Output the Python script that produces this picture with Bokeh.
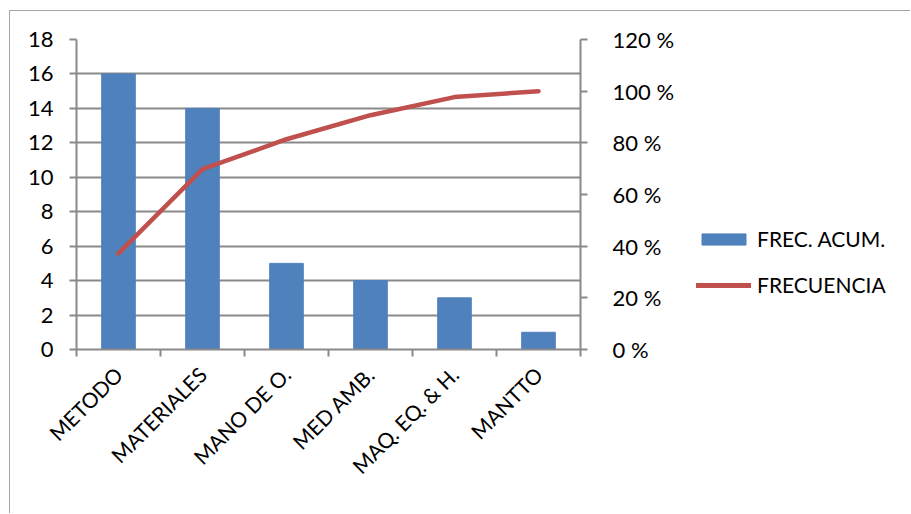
from bokeh.plotting import figure
from bokeh.models import (ColumnDataSource, Range1d, LinearAxis, FixedTicker,
                          PrintfTickFormatter, Legend, LegendItem)
from bokeh.layouts import row
from bokeh.embed import file_html
from bokeh.resources import INLINE
import math

categories = ["METODO", "MATERIALES", "MANO DE O.", "MED AMB.", "MAQ. EQ. & H.", "MANTTO"]
frec_acum = [16, 14, 5, 4, 3, 1]
frecuencia_pct = [37.2, 69.8, 81.4, 90.7, 97.7, 100.0]
left_ticks = [0, 2, 4, 6, 8, 10, 12, 14, 16, 18]
right_ticks = [0, 20, 40, 60, 80, 100, 120]

FONT = "Lato"
GRID = "#898989"
BORDER = "1px solid #a6a6a6"
BAR_COLOR = "#4F81BD"
LINE_COLOR = "#C0504D"

x_pos = [i + 0.5 for i in range(len(categories))]
src = ColumnDataSource(dict(x=x_pos, cat=categories, v=frec_acum, pct=frecuencia_pct))

p = figure(width=680, height=503, output_backend="svg", toolbar_location=None,
           x_range=Range1d(0, len(categories)), y_range=Range1d(0, 18),
           min_border_left=66, min_border_top=28, min_border_right=110, min_border_bottom=165)
p.styles = {"margin-left": "9px", "margin-top": "10px",
            "border-left": BORDER, "border-top": BORDER}
p.outline_line_color = None
p.background_fill_color = "white"
p.border_fill_color = "white"
p.extra_y_ranges = {"pct": Range1d(0, 120)}

bars = p.vbar(x="x", top="v", width=0.4, source=src, color=BAR_COLOR)
line = p.line(x="x", y="pct", source=src, y_range_name="pct", line_color=LINE_COLOR,
              line_width=4.5, line_cap="round", line_join="round")

# grid
p.xgrid.visible = False
p.ygrid.ticker = FixedTicker(ticks=left_ticks)
p.ygrid.grid_line_color = GRID
p.ygrid.grid_line_width = 2

# left axis
ya = p.yaxis[0]
ya.ticker = FixedTicker(ticks=left_ticks)
ya.axis_line_color = GRID
ya.axis_line_width = 2
ya.major_tick_line_color = GRID
ya.major_tick_line_width = 2
ya.major_tick_in = 0
ya.major_tick_out = 7
ya.minor_tick_line_color = None
ya.major_label_text_font = FONT
ya.major_label_text_font_size = "22px"
ya.major_label_text_color = "black"
ya.major_label_standoff = 16

# right axis
ra = LinearAxis(y_range_name="pct", ticker=FixedTicker(ticks=right_ticks),
                formatter=PrintfTickFormatter(format="%d %%"))
ra.axis_line_color = GRID
ra.axis_line_width = 2
ra.major_tick_line_color = GRID
ra.major_tick_line_width = 2
ra.major_tick_in = 0
ra.major_tick_out = 7
ra.minor_tick_line_color = None
ra.major_label_text_font = FONT
ra.major_label_text_font_size = "22px"
ra.major_label_text_color = "black"
ra.major_label_standoff = 25
p.add_layout(ra, "right")

# bottom axis
xa = p.xaxis[0]
xa.ticker = FixedTicker(ticks=x_pos, minor_ticks=list(range(len(categories) + 1)))
xa.major_label_overrides = {x: c for x, c in zip(x_pos, categories)}
xa.major_label_orientation = math.pi / 4
xa.axis_line_color = GRID
xa.axis_line_width = 2
xa.major_tick_line_color = None
xa.minor_tick_line_color = GRID
xa.minor_tick_line_width = 2
xa.minor_tick_in = 0
xa.minor_tick_out = 7
xa.major_label_text_font = FONT
xa.major_label_text_font_size = "21px"
xa.major_label_text_color = "black"
xa.major_label_standoff = 14

# legend figure (to the right of the chart)
q = figure(width=221, height=503, output_backend="svg", toolbar_location=None,
           x_range=Range1d(0, 1), y_range=Range1d(0, 1),
           min_border_left=0, min_border_right=0, min_border_top=0, min_border_bottom=0)
q.styles = {"margin-top": "10px", "border-top": BORDER}
q.axis.visible = False
q.grid.visible = False
q.outline_line_color = None
q.background_fill_color = "white"
q.border_fill_color = "white"
# proxy glyphs (placed outside the visible range) that only feed the legend
proxy = ColumnDataSource(dict(x=[5], top=[5], y=[5]))
lb = q.vbar(x="x", top="top", width=0.4, source=proxy, color=BAR_COLOR)
ll = q.line(x="x", y="y", source=proxy, line_color=LINE_COLOR,
            line_width=5, line_cap="round", line_join="round")

legend = Legend(items=[LegendItem(label="FREC. ACUM.", renderers=[lb]),
                       LegendItem(label="FRECUENCIA", renderers=[ll])],
                location=(7, 52), padding=0, margin=0,
                glyph_width=55, glyph_height=14, label_height=20, spacing=21,
                label_standoff=6, border_line_alpha=0, background_fill_alpha=0,
                label_text_font=FONT, label_text_font_size="21px", label_text_color="black")
q.add_layout(legend, "center")

layout = row(p, q, spacing=0)
open("out.html", "w").write(file_html(layout, INLINE))
